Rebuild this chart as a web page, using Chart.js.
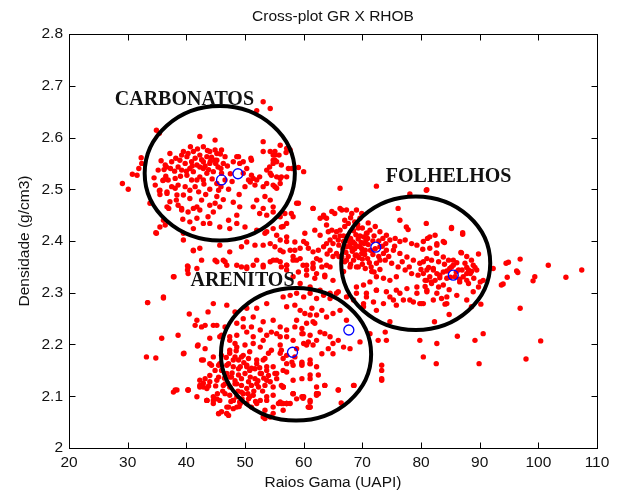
<!DOCTYPE html>
<html>
<head>
<meta charset="utf-8">
<title>Cross-plot GR X RHOB</title>
<script src="https://cdn.jsdelivr.net/npm/chart.js@4"></script>
<style>
  html, body { margin: 0; padding: 0; background: #fff; }
  #wrap { width: 622px; height: 492px; }
</style>
</head>
<body>
<div id="wrap"><canvas id="crossPlot" width="622" height="492"></canvas></div>
<script>
// ===============================
// Dados: pares [GR (UAPI), RHOB (g/cm3)]
// ===============================
const carbonatos = [
  [29.1,2.511],[30.1,2.500],[30.8,2.529],[31.6,2.527],[31.9,2.540],[32.3,2.561],[34.9,2.614],[35.4,2.608],
  [35.7,2.555],[36.2,2.538],[36.6,2.543],[34.5,2.522],[34.7,2.508],[35.4,2.497],[36.0,2.517],[34.8,2.416],
  [36.4,2.431],[39.2,2.460],[39.4,2.442],[37.8,2.331],[36.1,2.292],[33.4,2.281],[40.2,2.352],[40.2,2.344],
  [41.2,2.381],[37.2,2.569],[37.5,2.553],[36.7,2.492],[37.2,2.476],[38.1,2.502],[35.5,2.490],[37.0,2.463],
  [38.3,2.479],[53.1,2.669],[54.3,2.656],[52.0,2.652],[42.3,2.602],[44.9,2.595],[53.1,2.592],[56.0,2.585],
  [39.5,2.573],[40.3,2.569],[41.2,2.573],[42.3,2.566],[43.5,2.563],[45.2,2.569],[46.0,2.576],[48.6,2.563],
  [49.7,2.553],[51.1,2.556],[53.1,2.573],[54.3,2.573],[55.1,2.566],[54.8,2.556],[57.7,2.576],[58.0,2.540],
  [32.4,2.550],[36.4,2.547],[35.2,2.537],[38.9,2.556],[39.8,2.550],[40.6,2.540],[39.2,2.537],[40.1,2.527],
  [41.2,2.534],[42.3,2.543],[42.9,2.553],[44.0,2.550],[44.9,2.556],[45.4,2.543],[44.6,2.534],[43.5,2.531],
  [42.3,2.524],[42.9,2.518],[41.8,2.518],[40.9,2.518],[46.0,2.531],[46.6,2.518],[45.2,2.511],[45.5,2.498],
  [45.2,2.486],[44.9,2.473],[45.7,2.466],[44.0,2.469],[44.6,2.456],[43.7,2.447],[42.3,2.460],[41.8,2.466],
  [42.6,2.479],[40.6,2.482],[39.5,2.489],[38.6,2.469],[39.2,2.463],[40.3,2.456],[41.2,2.463],[41.8,2.444],
  [40.6,2.437],[42.9,2.434],[44.0,2.434],[45.7,2.427],[47.2,2.440],[48.6,2.450],[49.1,2.466],[50.0,2.427],
  [47.4,2.424],[48.6,2.434],[51.4,2.466],[52.0,2.479],[48.0,2.553],[49.1,2.550],[50.3,2.540],[51.1,2.527],
  [52.0,2.518],[50.6,2.518],[49.7,2.531],[52.5,2.524],[53.7,2.537],[54.3,2.531],[54.8,2.550],[55.4,2.553],
  [56.2,2.547],[56.2,2.524],[56.0,2.511],[55.1,2.505],[53.7,2.511],[53.4,2.486],[54.3,2.479],[54.8,2.466],
  [53.1,2.463],[52.5,2.453],[53.7,2.450],[54.8,2.456],[56.0,2.447],[56.8,2.453],[58.2,2.447],[57.1,2.434],
  [56.2,2.427],[54.8,2.424],[53.7,2.418],[42.9,2.582],[44.0,2.573],[44.9,2.576],[45.8,2.568],[46.6,2.563],
  [45.2,2.556],[44.1,2.554],[42.9,2.540],[41.8,2.547],[40.9,2.553],[40.1,2.563],[39.2,2.566],[38.6,2.543],
  [38.1,2.521],[36.9,2.518],[36.1,2.518],[35.5,2.498],[36.7,2.495],[37.5,2.505],[38.6,2.508],[39.8,2.505],
  [40.6,2.498],[41.5,2.505],[36.7,2.466],[38.4,2.489],[36.1,2.440],[34.9,2.415],[35.5,2.427],[39.5,2.415],
  [41.2,2.424],[33.8,2.473],[55.1,2.573],[54.8,2.566],[55.8,2.566],[55.1,2.556],[54.2,2.543],[57.1,2.579],
  [57.0,2.571],[57.4,2.540],[59.1,2.542],[60.0,2.534],[57.1,2.524],[56.0,2.521],[55.4,2.524],[54.5,2.527],
  [51.0,2.560],[48.9,2.563],[50.9,2.514],[51.4,2.521],[51.7,2.508],[53.1,2.505],[54.8,2.508],[55.4,2.502],
  [41.5,2.560],[42.6,2.557],[43.2,2.545],[43.8,2.538],[44.3,2.562],[45.0,2.550],[45.9,2.540],[46.3,2.550],
  [47.0,2.545],[47.5,2.530],[47.8,2.515],[43.0,2.510],[44.0,2.500],[41.0,2.545],[40.0,2.535],[39.0,2.525],
  [38.0,2.535],[37.3,2.540],[36.5,2.525],[43.6,2.575],[41.9,2.578],[40.7,2.582],[38.2,2.560],[44.4,2.520],
  [45.9,2.505],[47.2,2.500],[43.3,2.490],[42.1,2.495],[50.0,2.505],[49.0,2.490],[48.0,2.475],[46.3,2.480]
];

const folhelhos = [
  [59.1,2.473],[61.6,2.463],[62.8,2.444],[63.4,2.450],[63.9,2.444],[64.8,2.457],[65.3,2.453],[66.2,2.463],
  [66.5,2.460],[67.3,2.460],[68.2,2.453],[69.0,2.460],[69.9,2.453],[69.6,2.444],[68.7,2.437],[67.6,2.434],
  [67.0,2.428],[66.2,2.421],[65.6,2.418],[64.8,2.421],[64.2,2.418],[65.3,2.408],[64.5,2.402],[63.9,2.395],
  [65.0,2.395],[65.9,2.402],[66.8,2.399],[67.3,2.389],[68.2,2.386],[68.7,2.395],[69.6,2.389],[70.5,2.382],
  [69.9,2.376],[69.0,2.373],[68.5,2.363],[67.3,2.363],[66.5,2.369],[65.6,2.376],[64.5,2.382],[63.4,2.389],
  [62.5,2.382],[61.6,2.379],[60.8,2.386],[60.0,2.399],[58.5,2.382],[57.1,2.399],[56.5,2.379],[58.2,2.363],
  [59.4,2.366],[60.5,2.344],[61.6,2.350],[63.1,2.350],[64.5,2.350],[63.6,2.334],[61.9,2.328],[65.0,2.324],
  [66.8,2.341],[67.9,2.350],[69.3,2.350],[70.5,2.347],[71.6,2.341],[72.4,2.357],[73.0,2.363],[73.6,2.376],
  [70.7,2.415],[71.3,2.421],[72.2,2.428],[73.0,2.418],[74.1,2.411],[74.7,2.402],[75.6,2.405],[76.4,2.399],
  [77.3,2.402],[78.4,2.395],[79.3,2.392],[80.4,2.399],[81.5,2.386],[82.7,2.376],[83.8,2.369],[84.7,2.363],
  [87.0,2.344],[87.8,2.337],[88.6,2.341],[89.5,2.344],[89.0,2.328],[87.8,2.324],[86.6,2.321],[84.4,2.328],
  [83.2,2.334],[82.1,2.344],[81.0,2.344],[79.8,2.357],[78.7,2.363],[77.6,2.369],[76.4,2.376],[75.3,2.382],
  [74.1,2.382],[73.0,2.389],[73.9,2.363],[75.0,2.357],[76.1,2.350],[77.3,2.344],[78.4,2.337],[79.5,2.334],
  [80.7,2.324],[81.8,2.318],[83.0,2.311],[75.8,2.331],[74.7,2.324],[73.6,2.328],[72.4,2.331],[71.3,2.321],
  [70.2,2.315],[69.0,2.311],[70.7,2.299],[72.4,2.305],[74.1,2.302],[75.8,2.305],[77.6,2.308],[79.3,2.311],
  [81.0,2.302],[82.7,2.299],[84.4,2.292],[86.1,2.295],[87.8,2.286],[88.6,2.273],[84.4,2.279],[82.1,2.286],
  [80.4,2.279],[78.7,2.282],[77.0,2.286],[75.3,2.286],[73.6,2.279],[71.9,2.282],[70.2,2.279],[68.5,2.286],
  [67.3,2.292],[65.9,2.302],[64.5,2.299],[62.8,2.305],[61.1,2.311],[59.4,2.318],[58.2,2.331],[57.1,2.344],
  [56.2,2.350],[66.2,2.502],[80.9,2.498],[78.1,2.491],[76.1,2.463],[77.5,2.427],[77.8,2.422],[76.4,2.440],
  [80.9,2.434],[81.5,2.408],[82.4,2.411],[82.7,2.395],[85.2,2.424],[87.1,2.416],[83.8,2.399],[86.9,2.377],
  [72.4,2.506],[67.5,2.410],[68.0,2.405],[68.4,2.398],[68.9,2.412],[69.3,2.404],[69.8,2.397],[70.2,2.408],
  [70.6,2.401],[71.0,2.393],[67.8,2.390],[68.3,2.380],[68.8,2.372],[69.4,2.368],[69.9,2.385],[70.4,2.374],
  [70.9,2.366],[71.4,2.382],[71.8,2.374],[67.2,2.378],[66.7,2.385],[66.2,2.410],[66.0,2.392],[67.0,2.440],
  [68.0,2.445],[69.2,2.432],[70.0,2.425],[71.0,2.435],[72.0,2.410],[72.8,2.400],[73.4,2.390],[74.0,2.395],
  [71.5,2.350],[72.0,2.340],[73.0,2.345],[70.0,2.355],[69.0,2.350],[68.0,2.355],[67.0,2.360],[66.0,2.370],
  [65.0,2.370],[64.0,2.375],[71.8,2.400],[70.8,2.415],
  [69.1,2.390],[69.6,2.410],[70.3,2.395],[70.9,2.405],[68.5,2.420],[69.3,2.425],[68.0,2.395],[67.5,2.400],
  [66.8,2.410],[67.6,2.370],[68.7,2.385],[70.0,2.365],[71.2,2.358],[72.8,2.370],[72.2,2.385],[73.5,2.405],
  [74.5,2.370],[75.5,2.390],[76.8,2.360],[78.0,2.350],[80.0,2.345],[84.0,2.355],[86.0,2.340],[83.0,2.360],
  [85.0,2.330],
  [81.0,2.499],[85.2,2.426],[87.1,2.413],[81.1,2.405],[84.0,2.397],[82.7,2.392],[80.3,2.384],[82.6,2.377],
  [86.8,2.378],[89.8,2.375],[81.0,2.366],[81.8,2.363],[80.4,2.360],[85.5,2.363],[86.1,2.358],[88.9,2.353],
  [89.2,2.349],[87.8,2.349],[88.1,2.344],[87.2,2.331],[92.3,2.347],[94.5,2.357],[94.9,2.359],[96.9,2.365],
  [101.7,2.353],[107.4,2.344],[96.3,2.342],[96.5,2.339],[94.7,2.330],[99.4,2.331],[99.1,2.323],[104.7,2.330],
  [93.7,2.315],[94.0,2.317],[90.6,2.324],[90.1,2.321],[88.9,2.302],[89.8,2.311],[88.1,2.318],[84.8,2.306],
  [83.8,2.315],[82.4,2.324],[81.5,2.331],[80.7,2.312],[83.5,2.289],[84.1,2.278],[80.1,2.279],[84.8,2.258],
  [90.2,2.278],[96.9,2.270],[82.3,2.244],[86.2,2.216],[90.6,2.221],[89.2,2.208],[82.7,2.202],[80.4,2.176],
  [82.6,2.163],[89.9,2.163],[97.9,2.172],[100.4,2.207],[79.8,2.208],[85.5,2.353],[84.9,2.347],[84.4,2.342],
  [83.8,2.340],[83.2,2.329],[82.7,2.337],[82.1,2.347],[81.3,2.349],[80.4,2.337],[86.4,2.344],[87.5,2.357],
  [87.8,2.370],[88.6,2.363],[88.4,2.337],[86.6,2.326],[85.8,2.331],[85.2,2.350],[81.0,2.324],[81.8,2.321]
];

const arenitos = [
  [40.3,2.350],[40.3,2.337],[37.9,2.331],[41.8,2.347],[42.6,2.363],[45.2,2.360],[46.6,2.360],[48.6,2.353],
  [50.3,2.350],[51.4,2.353],[53.1,2.353],[54.3,2.360],[55.4,2.363],[57.1,2.353],[58.2,2.370],[59.9,2.353],
  [61.6,2.347],[62.2,2.366],[36.1,2.290],[33.4,2.281],[40.5,2.259],[43.7,2.263],[44.6,2.279],[46.9,2.276],
  [48.3,2.263],[50.3,2.270],[52.0,2.270],[53.7,2.279],[41.8,2.247],[43.2,2.237],[45.2,2.237],[46.6,2.234],
  [48.6,2.241],[49.7,2.250],[51.4,2.253],[53.1,2.244],[54.8,2.247],[56.0,2.234],[57.1,2.228],[58.8,2.247],
  [59.7,2.231],[61.1,2.257],[61.9,2.241],[35.8,2.212],[38.6,2.218],[44.0,2.212],[45.7,2.215],[47.4,2.208],
  [48.6,2.218],[50.3,2.224],[51.4,2.215],[53.1,2.208],[54.5,2.224],[56.0,2.215],[58.2,2.208],[59.7,2.221],
  [61.1,2.218],[62.2,2.208],[33.2,2.176],[34.8,2.174],[39.5,2.182],[41.9,2.197],[43.2,2.192],[44.6,2.176],
  [46.0,2.179],[47.4,2.189],[48.6,2.195],[49.4,2.176],[50.8,2.186],[52.0,2.170],[53.4,2.173],[54.5,2.189],
  [56.5,2.173],[58.0,2.166],[59.7,2.160],[61.1,2.163],[62.2,2.157],[42.6,2.170],[44.3,2.160],[45.7,2.163],
  [46.9,2.160],[48.0,2.170],[48.9,2.153],[50.3,2.157],[51.7,2.153],[52.6,2.144],[53.7,2.157],[55.1,2.144],
  [56.5,2.150],[58.2,2.131],[59.7,2.134],[61.1,2.141],[62.2,2.118],[38.1,2.112],[40.3,2.112],[42.3,2.121],
  [44.0,2.128],[45.5,2.137],[46.3,2.121],[47.4,2.137],[48.3,2.124],[49.4,2.134],[50.6,2.128],[52.0,2.124],
  [53.7,2.131],[54.8,2.118],[56.5,2.118],[58.2,2.105],[59.7,2.099],[61.1,2.079],[41.8,2.099],[43.5,2.092],
  [45.2,2.095],[46.6,2.105],[48.0,2.092],[49.4,2.108],[50.8,2.099],[52.0,2.086],[53.7,2.092],[55.7,2.086],
  [57.1,2.086],[45.5,2.066],[46.9,2.066],[47.2,2.079],[48.6,2.079],[53.1,2.060],[51.1,2.079],
  [47.4,2.183],[48.3,2.176],[48.9,2.170],[49.7,2.179],[50.6,2.173],[47.2,2.163],[48.0,2.157],[49.2,2.157],
  [50.3,2.160],[51.1,2.154],[52.0,2.163],[53.1,2.170],[54.0,2.183],[46.9,2.144],[47.7,2.137],[48.9,2.141],
  [50.0,2.144],[50.9,2.137],[51.7,2.134],[52.8,2.144],[53.7,2.150],[54.8,2.157],[55.4,2.144],[46.6,2.124],
  [47.4,2.118],[48.6,2.124],[49.4,2.121],[50.3,2.115],[51.1,2.121],[52.3,2.118],[53.4,2.121],[54.3,2.128],
  [55.4,2.134],[56.2,2.121],[47.4,2.102],[48.6,2.099],[49.7,2.105],[50.6,2.095],[51.4,2.102],[52.6,2.092],
  [53.7,2.099],[54.8,2.102],[56.0,2.089],[57.1,2.086],[44.6,2.099],[43.5,2.092],[42.9,2.118],[42.3,2.131],
  [43.2,2.134],[45.2,2.131],[44.9,2.150],[44.0,2.163],[42.9,2.170],[42.0,2.199],[42.6,2.234],[41.5,2.237],
  [44.6,2.237],[46.0,2.218],[47.4,2.215],[48.3,2.202],[49.7,2.234],[51.1,2.234],[52.6,2.228],[53.7,2.218],
  [55.4,2.221],[56.0,2.199],[57.1,2.215],[58.5,2.234],[59.9,2.221],[60.5,2.199],[61.1,2.170],[59.7,2.163],
  [58.5,2.176],[57.1,2.163],[56.0,2.183],[52.6,2.195],[51.4,2.202],[50.0,2.199],[40.3,2.112],[39.6,2.183],
  [46.9,2.079],[48.0,2.076],[49.2,2.086],[50.3,2.086],[53.4,2.073],[54.8,2.079],[56.5,2.073],[58.8,2.095],
  [60.8,2.079],[62.2,2.102],[61.1,2.134],[62.5,2.141],[54.3,2.060],[46.0,2.070],[44.6,2.092],
  [46.0,2.150],[46.5,2.135],[47.0,2.125],[47.8,2.145],[48.3,2.130],[48.8,2.110],[49.5,2.095],[50.5,2.105],
  [51.5,2.110],[52.2,2.130],[50.8,2.150],[49.8,2.165],[48.5,2.188],[46.8,2.175],[45.5,2.160],[45.0,2.120],
  [46.2,2.110],[47.6,2.090],[49.0,2.080],[51.8,2.090],[53.0,2.110],[54.0,2.140],[52.5,2.155],[53.2,2.135],
  [44.0,2.140],[43.8,2.120],[45.3,2.105],
  [56.5,2.292],[57.7,2.295],[58.8,2.299],[60.0,2.292],[61.1,2.299],[62.2,2.289],[63.4,2.295],[64.5,2.289],
  [65.6,2.299],[57.1,2.273],[58.5,2.276],[59.4,2.266],[60.2,2.260],[61.4,2.270],[62.2,2.257],[63.1,2.266],
  [63.9,2.253],[65.0,2.260],[66.2,2.266],[67.3,2.247],[60.5,2.241],[61.6,2.244],[62.8,2.224],[63.6,2.221],
  [64.5,2.215],[65.0,2.202],[65.9,2.208],[66.8,2.195],[67.9,2.192],[64.2,2.192],[65.0,2.182],[63.1,2.182],
  [61.6,2.199],[60.8,2.205],[60.0,2.202],[58.8,2.192],[57.1,2.179],[56.2,2.189],[59.7,2.166],[61.1,2.163],
  [58.2,2.160],[57.1,2.147],[56.5,2.118],[58.2,2.105],[60.0,2.099],[61.1,2.089],[62.2,2.105],[60.8,2.079],
  [57.1,2.086],[56.2,2.086],[63.6,2.121],[65.9,2.112],[68.5,2.121],[69.6,2.205],[71.3,2.221],[72.7,2.208],
  [74.1,2.208],[73.9,2.224],[73.3,2.160],[73.3,2.150],[73.3,2.134],[69.0,2.299],[70.7,2.292],[72.4,2.305],
  [74.7,2.292],[76.4,2.299],[78.1,2.286],[79.8,2.279],[79.3,2.299],[81.0,2.305],[75.8,2.276],[74.7,2.244],
  [72.4,2.266],[70.2,2.273],
  [37.8,2.108],[38.4,2.112],[40.3,2.112],[42.3,2.118],[42.9,2.125],[43.5,2.115],[43.5,2.092],[44.6,2.086],
  [45.7,2.092],[45.5,2.067],[46.9,2.067],[47.2,2.063],[48.0,2.092],[49.1,2.089],[53.4,2.057],[54.8,2.067],
  [56.5,2.118],[58.2,2.105],[59.9,2.096],[61.1,2.092],[61.1,2.079],[62.2,2.105],[56.5,2.086],[57.7,2.086],
  [59.9,2.099],[61.0,2.079],[62.5,2.105],[63.6,2.121],[65.9,2.112],[66.4,2.087],[68.6,2.121],[73.3,2.131],
  [39.5,2.402],[41.2,2.382],[42.3,2.386],[45.7,2.392],[47.4,2.379],[49.4,2.389],[50.3,2.398],[51.7,2.392],
  [53.1,2.392],[54.3,2.395],[55.1,2.389],[56.0,2.402],[57.1,2.408],[56.0,2.382],[57.7,2.382],[59.4,2.386],
  [60.5,2.395],[58.5,2.398],[60.2,2.415],[61.9,2.421],[63.4,2.447],[63.9,2.431],[62.8,2.411],[61.6,2.463],
  [58.8,2.473],[57.9,2.453],[56.5,2.428],[55.4,2.411],[53.4,2.415],[52.0,2.421],[44.9,2.363],[46.3,2.363],
  [46.9,2.353],[49.4,2.350],[50.3,2.347],[52.0,2.363],[53.1,2.350],[54.8,2.363],[56.0,2.360],[57.1,2.353],
  [58.8,2.363],[60.5,2.353],[61.6,2.357],[62.8,2.363],[63.9,2.353],[59.1,2.340],[60.5,2.334],[62.2,2.337],
  [63.6,2.331]
];

// pontos destacados (circulos azuis)
const destaqueGR = [46.0, 48.8, 72.3, 85.5, 58.1, 67.7];
const destaqueRHOB = [2.518, 2.530, 2.388, 2.334, 2.185, 2.228];

// zonas interpretadas (centro e semi-eixos em unidades dos eixos)
const zonaNomes = ['CARBONATOS', 'FOLHELHOS', 'ARENITOS'];
const zonaGR = [45.7, 79.1, 58.7];
const zonaRHOB = [2.531, 2.357, 2.181];
const zonaRaioGR = [12.8, 12.7, 12.8];
const zonaRaioRHOB = [0.130, 0.129, 0.128];
const rotuloGR = [27.8, 74.0, 40.7];
const rotuloRHOB = [2.663, 2.514, 2.313];

const familiaEixo = '"Liberation Sans", Arial, sans-serif';
const corTexto = '#111';

// ===============================
// Plugin: moldura, ticks internos, elipses, rotulos
// ===============================
const molduraMatlab = {
  id: 'molduraMatlab',
  afterDatasetsDraw(chart) {
    const { ctx, scales: { x, y } } = chart;
    ctx.save();
    // elipses
    ctx.strokeStyle = '#000';
    ctx.lineWidth = 4;
    for (let i = 0; i < zonaNomes.length; i++) {
      const cx = x.getPixelForValue(zonaGR[i]);
      const cy = y.getPixelForValue(zonaRHOB[i]);
      const rx = x.getPixelForValue(zonaGR[i] + zonaRaioGR[i]) - cx;
      const ry = cy - y.getPixelForValue(zonaRHOB[i] + zonaRaioRHOB[i]);
      ctx.beginPath();
      ctx.ellipse(cx, cy, rx, ry, 0, 0, Math.PI * 2);
      ctx.stroke();
    }
    // rotulos das zonas
    ctx.fillStyle = '#111';
    ctx.font = 'bold 20px "Liberation Serif", "Times New Roman", serif';
    ctx.textBaseline = 'alphabetic';
    ctx.textAlign = 'left';
    for (let i = 0; i < zonaNomes.length; i++) {
      ctx.fillText(zonaNomes[i], x.getPixelForValue(rotuloGR[i]), y.getPixelForValue(rotuloRHOB[i]));
    }
    ctx.restore();
  },
  afterDraw(chart) {
    const { ctx, chartArea: a, scales: { x, y } } = chart;
    const L = Math.round(a.left) + 0.5, R = Math.round(a.right) + 0.5;
    const T = Math.round(a.top) + 0.5, B = Math.round(a.bottom) + 0.5;
    const tam = 6;
    ctx.save();
    ctx.strokeStyle = '#000';
    ctx.lineWidth = 1;
    ctx.beginPath();
    x.ticks.forEach(t => {
      const px = Math.round(x.getPixelForValue(t.value)) + 0.5;
      ctx.moveTo(px, B); ctx.lineTo(px, B - tam);
      ctx.moveTo(px, T); ctx.lineTo(px, T + tam);
    });
    y.ticks.forEach(t => {
      const py = Math.round(y.getPixelForValue(t.value)) + 0.5;
      ctx.moveTo(L, py); ctx.lineTo(L + tam, py);
      ctx.moveTo(R, py); ctx.lineTo(R - tam, py);
    });
    ctx.stroke();
    ctx.strokeRect(L, T, R - L, B - T);
    // titulo
    ctx.fillStyle = corTexto;
    ctx.font = '15.5px ' + familiaEixo;
    ctx.textAlign = 'center';
    ctx.textBaseline = 'middle';
    ctx.fillText('Cross-plot GR X RHOB', (a.left + a.right) / 2, 17);
    ctx.restore();
  }
};

// ===============================
// Chart: Cross-plot GR x RHOB
// ===============================
const pontos = carbonatos.concat(folhelhos, arenitos).map(p => ({ x: p[0], y: p[1] }));
const destaques = destaqueGR.map((g, i) => ({ x: g, y: destaqueRHOB[i] }));

new Chart(document.getElementById('crossPlot'), {
  type: 'scatter',
  data: {
    datasets: [{
      label: 'Destaques',
      data: destaques,
      pointRadius: 5,
      pointBorderWidth: 1.3,
      pointBorderColor: '#0000ff',
      pointBackgroundColor: 'rgba(0,0,0,0)'
    }, {
      label: 'GR x RHOB',
      data: pontos,
      pointRadius: 2.7,
      pointBorderWidth: 0,
      pointBackgroundColor: '#ff0000'
    }]
  },
  options: {
    responsive: false,
    animation: false,
    layout: { padding: { left: 0, right: 25, top: 34, bottom: 0 } },
    plugins: { legend: { display: false }, tooltip: { enabled: false } },
    scales: {
      x: {
        type: 'linear',
        min: 20, max: 110,
        grid: { display: false, drawTicks: false },
        border: { display: false },
        ticks: { stepSize: 10, padding: 5, color: corTexto, font: { family: familiaEixo, size: 15.5 } },
        title: { display: true, text: 'Raios Gama (UAPI)', color: corTexto, padding: { top: 0, bottom: 0 }, font: { family: familiaEixo, size: 15.5 } },
        afterFit(scale) { scale.height = 44; }
      },
      y: {
        type: 'linear',
        min: 2, max: 2.8,
        grid: { display: false, drawTicks: false },
        border: { display: false },
        ticks: {
          stepSize: 0.1, padding: 6, color: corTexto,
          font: { family: familiaEixo, size: 15.5 },
          callback: v => String(Math.round(v * 10) / 10)
        },
        title: { display: true, text: 'Densidade (g/cm3)', color: corTexto, padding: { top: 15, bottom: 0 }, font: { family: familiaEixo, size: 15.5 } },
        afterFit(scale) { scale.width = 69; }
      }
    }
  },
  plugins: [molduraMatlab]
});
</script>
</body>
</html>
